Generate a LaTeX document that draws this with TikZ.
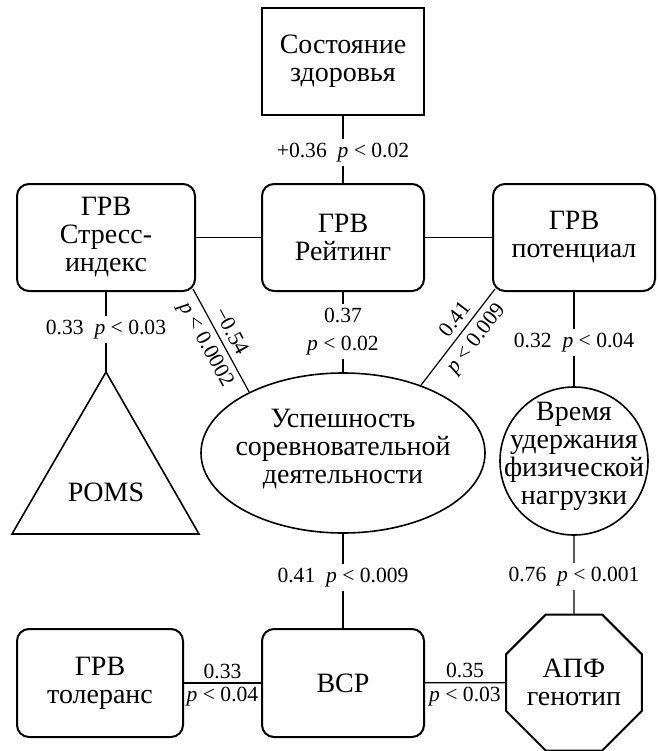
\documentclass[tikz,border=0pt]{standalone}
\usepackage{fontspec}
\setmainfont{Liberation Serif}
\usetikzlibrary{shapes.geometric,backgrounds}
\begin{document}
\begin{tikzpicture}[x=0.5pt,y=-0.5pt,
  box/.style={draw, line width=1pt, rounded corners=6pt, minimum width=81pt, minimum height=53.5pt, align=center, font=\fontsize{14}{14}\selectfont, fill=white, inner sep=0pt},
  conn/.style={line width=0.6pt},
  lab/.style={font=\fontsize{10.8}{14}\selectfont, align=center, inner xsep=1pt, inner ysep=2pt},
  labw/.style={lab, fill=white},
  slab/.style={lab, sloped, inner ysep=3pt},
  txt/.style={font=\fontsize{14}{14}\selectfont, align=center, inner sep=0pt},
  shp/.style={draw, line width=0.8pt, fill=white, inner sep=0pt}]
\useasboundingbox (0,0) rectangle (658,751);
\begin{scope}[on background layer]
\fill[white] (0,0) rectangle (658,751);
\end{scope}

% nodes
\node[box, rounded corners=0pt] (health) at (343,61.5) {Состояние\\здоровья};
\node[box, minimum width=89pt] (stress) at (106,237.5) {ГРВ\\Стресс-\\индекс};
\node[box] (rating) at (343,237.5) {ГРВ\\Рейтинг};
\node[box] (potential) at (574,237.5) {ГРВ\\потенциал};
\node[box, minimum width=83pt, minimum height=54pt] (toler) at (100,683) {ГРВ\\толеранс};
\node[box, minimum height=54pt] (vsr) at (343,683) {ВСР};
\node[shp, line width=1pt, regular polygon, regular polygon sides=8, minimum size=73.6pt, font=\fontsize{14}{14}\selectfont, align=center] (apf) at (574,682.5) {АПФ\\генотип};
\node[shp, ellipse, minimum width=142pt, minimum height=80pt] (ell) at (343,453) {};
\node[txt] (elltext) at (343,449) {Успешность\\соревновательной\\деятельности};
\node[shp, circle, minimum size=74pt] (circ) at (574,461) {};
\node[txt] (circtext) at (574,456) {Время\\удержания\\физической\\нагрузки};
\coordinate (apex) at (106,372);
\coordinate (tl) at (12,534);
\coordinate (tr) at (199,534);
\draw[line width=0.8pt, line join=miter] (apex) -- (tr) -- (tl) -- cycle;
\node[txt] (poms) at (106,492) {POMS};
\coordinate (sc) at ([xshift=-1.5pt,yshift=1.5pt]stress.south east);
\coordinate (pc) at ([xshift=1.5pt,yshift=1.5pt]potential.south west);

% connectors
\begin{scope}[on background layer]
\draw[conn] (health) -- node[labw, pos=0.55] {+0.36\enspace\textit{p} < 0.02} (rating);
\draw[conn] (stress) -- (rating);
\draw[conn] (rating) -- (potential);
\draw[conn] (stress) -- node[labw, pos=0.47] {0.33\enspace\textit{p} < 0.03} (apex);
\draw[conn] (rating) -- node[labw, pos=0.49] {0.37\\\textit{p} < 0.02} (ell);
\draw[conn] (potential) -- node[labw, pos=0.54] {0.32\enspace\textit{p} < 0.04} (circ);
\draw[conn] (ell) -- node[labw, pos=0.46] {0.41\enspace\textit{p} < 0.009} (vsr);
\draw[conn] (circ) -- node[labw, pos=0.52] {0.76\enspace\textit{p} < 0.001} (apf);
\draw[conn] (toler) -- node[lab, above] {0.33} node[lab, below] {\textit{p} < 0.04} (vsr);
\draw[conn] (vsr) -- node[lab, above] {0.35} node[lab, below] {\textit{p} < 0.03} (apf);
\draw[conn] (sc) -- node[slab, above, pos=0.47] {−0.54} node[slab, below, pos=0.47] {\textit{p} < 0.0002} (ell.147.9);
\draw[conn] (ell.41.8) -- node[slab, above, pos=0.6] {0.41} node[slab, below, pos=0.58] {\textit{p} < 0.009} (pc);
\end{scope}
\end{tikzpicture}
\end{document}
